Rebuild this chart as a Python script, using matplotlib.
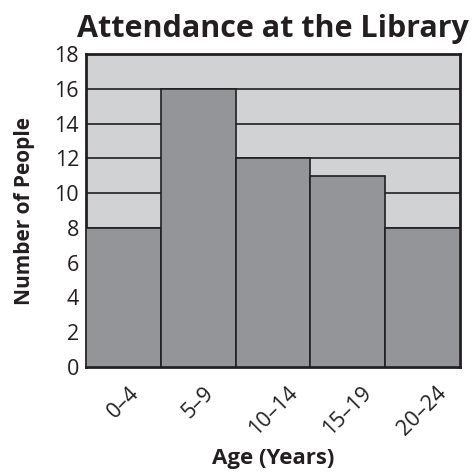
import matplotlib
matplotlib.use("Agg")
import matplotlib.pyplot as plt

# Data
age_groups = ["0\u20134", "5\u20139", "10\u201314", "15\u201319", "20\u201324"]
people = [8, 16, 12, 11, 8]
y_ticks = list(range(0, 19, 2))

plt.rcParams['font.family'] = ['Open Sans', 'DejaVu Sans']

fig = plt.figure(figsize=(4.75, 4.72), dpi=100)
ax = fig.add_axes([0.181, 0.2225, 0.787, 0.663])
ax.set_facecolor("#d1d2d4")

# horizontal grid lines
ax.set_axisbelow(True)
ax.yaxis.grid(True, color="#231f20", linewidth=1.2)

x = list(range(len(age_groups)))
ax.bar(x, people, width=1.0, color="#939598", edgecolor="#231f20", linewidth=1.2, zorder=3)

ax.set_xlim(-0.5, len(age_groups) - 0.5)
ax.set_ylim(0, 18)
ax.set_yticks(y_ticks)
ax.set_xticks(x)
ax.set_xticklabels(age_groups, rotation=45, ha="center", va="top")
ax.tick_params(axis="both", length=0, labelsize=15.5, colors="#231f20")
ax.tick_params(axis="x", pad=11)
ax.tick_params(axis="y", pad=5)

for s in ax.spines.values():
    s.set_color("#231f20")
    s.set_linewidth(2)

ax.set_title("Attendance at the Library", fontsize=22, fontweight="bold", color="#231f20", pad=12)
ax.set_xlabel("Age (Years)", fontsize=16, fontweight="bold", color="#231f20", labelpad=6)
ax.set_ylabel("Number of People", fontsize=15, fontweight="bold", color="#231f20", labelpad=14)

fig.savefig("out.png", dpi=100)
